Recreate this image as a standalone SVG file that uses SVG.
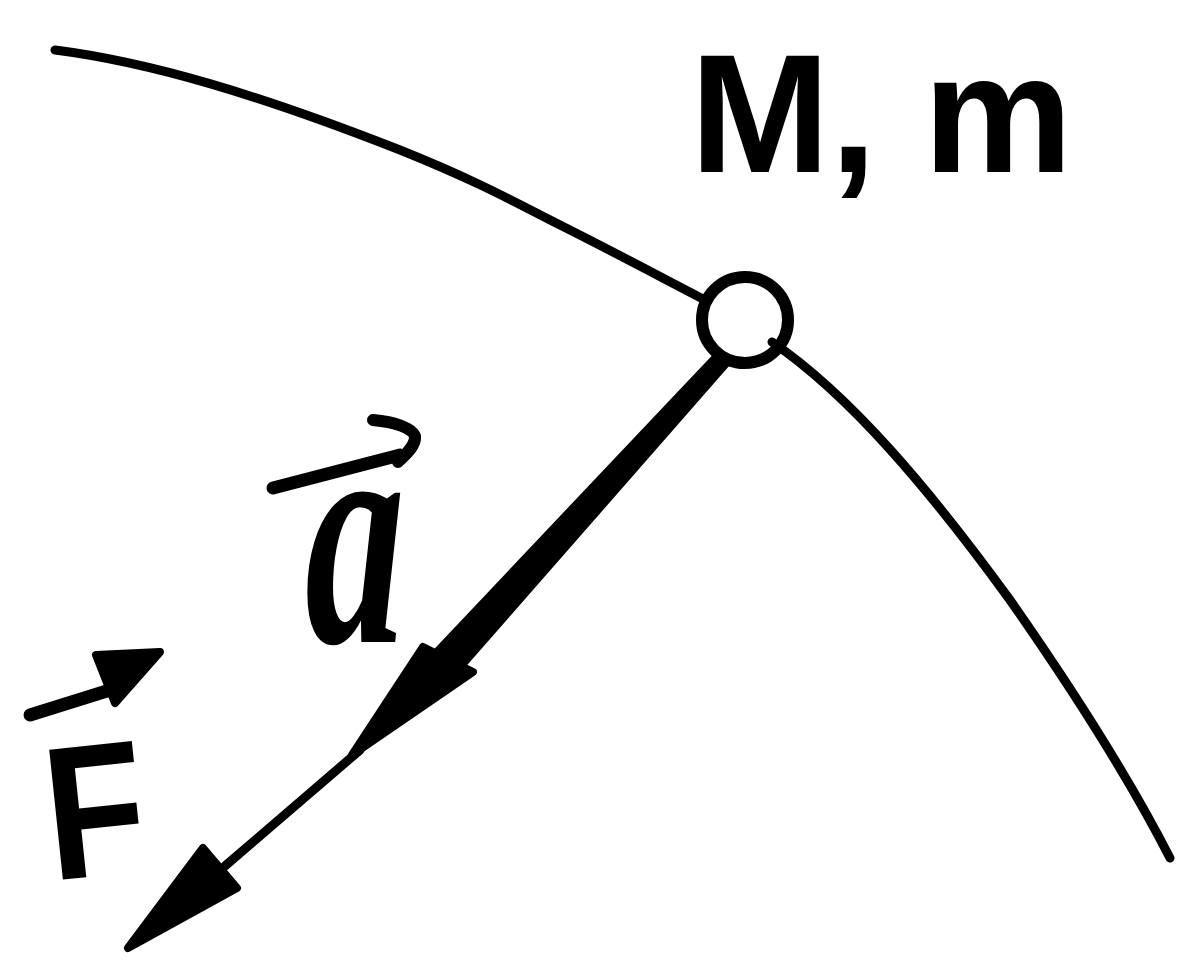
<svg xmlns="http://www.w3.org/2000/svg" width="1177" height="962" viewBox="0 0 1177 962">
<style>
.ln{fill:none;stroke:#000;stroke-linecap:round;stroke-linejoin:round}
.lbl{font-family:"Liberation Sans",Arial,sans-serif;font-weight:bold;fill:#000}
.head{fill:#000;stroke:#000;stroke-width:8;stroke-linejoin:round}
</style>
<rect width="1177" height="962" fill="#fff"/>
<g id="path-curve">
<path class="ln" stroke-width="9" d="M55,50 C150,62 260,95 400,150 C480,182 520,205 560,225 C620,255 670,282 705,300"/>
<path class="ln" stroke-width="9" d="M772,342 C850,395 930,490 1010,600 C1080,700 1130,780 1170,858"/>
</g>
<g id="mass-point">
<circle class="ln" stroke-width="12" cx="745" cy="320" r="43"/>
</g>
<g id="label-Mm">
<text class="lbl" x="690" y="172" font-size="168">M, m</text>
</g>
<g id="connectors">
<path d="M718,352 L730,362 L462,668 L436,650 Z" fill="#000" stroke="#000" stroke-width="4" stroke-linejoin="round"/>
<polygon class="head" points="423,647 473,672 352,755"/>
<path class="ln" stroke-width="9" d="M360,750 L225,866"/>
<polygon class="head" points="203,848 237,888 128,948"/>
</g>
<g id="label-a">
<text x="305" y="642" font-size="320" font-style="italic" font-weight="bold" textLength="100" lengthAdjust="spacingAndGlyphs" style="font-family:'Liberation Serif',serif">a</text>
<path class="ln" stroke-width="13" d="M273,488 L400,455"/>
<path class="ln" stroke-width="12" d="M373,420 C395,422 412,428 415,436 C416,446 405,455 398,462"/>
</g>
<g id="label-F">
<text class="lbl" x="52" y="880" font-size="190" textLength="100" lengthAdjust="spacingAndGlyphs" transform="rotate(-6 60 880)">F</text>
<path class="ln" stroke-width="13" d="M30,715 L110,690"/>
<polygon class="head" points="96,655 160,652 115,703"/>
</g>
</svg>
